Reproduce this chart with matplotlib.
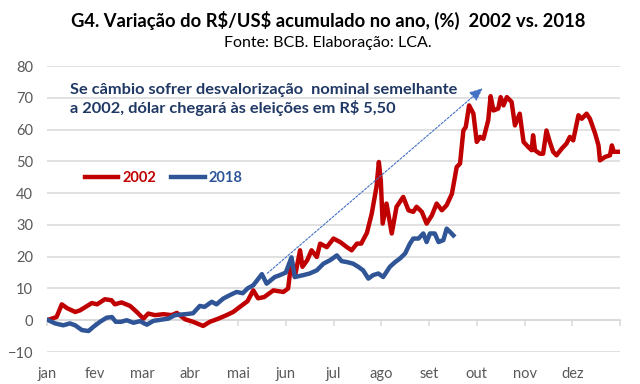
import matplotlib
matplotlib.use("Agg")
import matplotlib.pyplot as plt

plt.rcParams["font.family"] = ["Lato", "DejaVu Sans"]

# Months (x = fraction of the year in months, 0 = 1 Jan)
months = ["jan", "fev", "mar", "abr", "mai", "jun",
          "jul", "ago", "set", "out", "nov", "dez"]

# 2002 accumulated variation (%)
x2002 = [0.06, 0.20, 0.31, 0.42, 0.59, 0.69, 0.94, 1.05, 1.21, 1.35, 1.42, 1.56,
         1.74, 1.88, 2.02, 2.12, 2.26, 2.44, 2.61, 2.72, 2.89, 3.06, 3.27, 3.41,
         3.59, 3.76, 3.90, 4.04, 4.20, 4.32, 4.42, 4.55, 4.74, 4.95, 5.05, 5.12,
         5.19, 5.30, 5.35, 5.45, 5.54, 5.65, 5.72, 5.86, 6.00, 6.14, 6.28, 6.38,
         6.49, 6.58, 6.70, 6.80, 6.90, 6.95, 6.99, 7.03, 7.11, 7.22, 7.32, 7.46,
         7.57, 7.67, 7.74, 7.85, 7.95, 8.06, 8.16, 8.27, 8.37, 8.48, 8.58, 8.65,
         8.72, 8.77, 8.84, 8.93, 9.00, 9.07, 9.14, 9.24, 9.29, 9.35, 9.45, 9.50,
         9.56, 9.63, 9.73, 9.80, 9.90, 9.98, 10.08, 10.15, 10.18, 10.22, 10.32,
         10.39, 10.46, 10.53, 10.60, 10.67, 10.78, 10.88, 10.95, 11.02, 11.13,
         11.20, 11.30, 11.37, 11.48, 11.55, 11.58, 11.69, 11.79, 11.83, 11.87, 12.00]
y2002 = [0.3, 1.0, 5.0, 3.8, 2.6, 3.1, 5.4, 5.0, 6.6, 6.3, 5.0, 5.6,
         4.5, 2.6, 0.5, 2.1, 1.6, 1.9, 1.6, 2.3, 0.3, -0.5, -1.8, -0.5,
         0.5, 1.6, 2.6, 4.2, 6.0, 9.4, 6.9, 7.3, 9.4, 8.9, 10.0, 18.9,
         13.6, 22.0, 16.8, 18.9, 22.0, 19.9, 24.1, 23.0, 25.7, 24.6, 23.0, 22.0,
         24.1, 24.1, 27.5, 33.5, 41.9, 49.8, 44.0, 30.4, 36.7, 27.3, 35.7, 38.8,
         34.6, 34.1, 35.7, 34.1, 30.4, 33.0, 36.7, 34.6, 36.2, 39.8, 48.2, 49.3,
         59.7, 60.8, 67.6, 65.0, 56.1, 57.7, 57.1, 62.9, 70.5, 66.0, 66.6, 70.2,
         67.6, 70.2, 68.7, 61.3, 65.0, 56.1, 54.5, 53.5, 58.2, 53.5, 52.4,
         52.4, 59.7, 56.1, 53.0, 51.9, 54.0, 55.6, 57.7, 56.6, 64.5,
         63.4, 65.0, 63.4, 58.7, 55.0, 50.3, 51.4, 51.9, 55.0, 53.0, 53.0]

# 2018 accumulated variation (%)
x2018 = [0.03, 0.17, 0.34, 0.48, 0.59, 0.73, 0.87, 0.97, 1.11, 1.25, 1.36, 1.44,
         1.55, 1.67, 1.81, 1.95, 2.09, 2.23, 2.40, 2.54, 2.68, 2.82, 2.96, 3.06,
         3.20, 3.30, 3.45, 3.55, 3.69, 3.83, 3.97, 4.10, 4.20, 4.32, 4.50, 4.60,
         4.77, 4.88, 5.00, 5.12, 5.19, 5.37, 5.50, 5.65, 5.79, 5.93, 6.07, 6.17,
         6.28, 6.41, 6.52, 6.62, 6.73, 6.83, 6.94, 7.04, 7.18, 7.29, 7.39, 7.50,
         7.60, 7.67, 7.78, 7.88, 7.95, 8.02, 8.12, 8.20, 8.30, 8.37, 8.44, 8.51]
y2018 = [0.0, -1.0, -1.6, -1.0, -1.6, -3.1, -3.4, -2.1, -0.5, 0.8, 1.0, -0.5,
         -0.5, 0.0, -0.8, -0.3, -1.4, -0.2, 0.2, 0.5, 1.6, 1.8, 2.0, 2.2,
         4.5, 4.2, 5.8, 5.0, 6.8, 7.9, 8.9, 8.5, 10.0, 11.0, 14.5, 11.5,
         13.6, 14.2, 15.0, 19.8, 13.6, 14.2, 14.7, 15.7, 17.8, 18.9, 20.4, 18.6,
         18.3, 17.8, 16.8, 15.7, 13.1, 14.2, 14.7, 13.6, 16.8, 18.3, 19.4, 21.0,
         24.1, 25.7, 25.7, 27.3, 24.6, 27.3, 27.3, 24.6, 25.2, 28.8, 27.8, 26.7]

# Projection arrow (start / end in data units)
arrow_start = (4.57, 14.2)
arrow_end = (9.17, 73.6)

title = r"G4. Variação do R\$/US\$ acumulado no ano, (%)  2002 vs. 2018"
subtitle = "Fonte: BCB. Elaboração: LCA."
note = ("Se câmbio sofrer desvalorização  nominal semelhante\n"
        r"a 2002, dólar chegará às eleições em R\$ 5,50")

red = "#C00000"
blue = "#2F5597"
grey_txt = "#595959"
grid_c = "#D9D9D9"

fig = plt.figure(figsize=(6.4, 3.84), dpi=100)
ax = fig.add_axes([47/640, 32/384, 573/640, 286/384])

ax.plot(x2002, y2002, color=red, lw=3.2, solid_joinstyle="round", label="2002", zorder=3)
ax.plot(x2018, y2018, color=blue, lw=3.2, solid_joinstyle="round", label="2018", zorder=3)

ax.annotate("", xy=arrow_end, xytext=arrow_start,
            arrowprops=dict(arrowstyle="-|>,head_length=0.8,head_width=0.35",
                            color="#4472C4", lw=0.8, linestyle=(0, (2, 1.5))),
            zorder=4)

ax.text(0.48, 69.4, note, fontsize=11.8, fontweight="bold", color="#203864",
        va="center", ha="left", linespacing=1.2)

ax.set_xlim(0, 12)
ax.set_ylim(-10, 80)
ax.set_yticks(range(-10, 81, 10))
ax.set_xticks(range(13))
ax.set_xticklabels(months + [""])
ax.yaxis.grid(True, color=grid_c, lw=1.1)
ax.set_axisbelow(True)

for s in ["top", "right", "left"]:
    ax.spines[s].set_visible(False)
ax.spines["bottom"].set_position(("data", 0))
ax.spines["bottom"].set_color(grid_c)
ax.spines["bottom"].set_linewidth(1.1)

ax.tick_params(axis="y", length=0, pad=10, labelsize=10.5, labelcolor=grey_txt)
ax.tick_params(axis="x", direction="out", length=4, color=grid_c, width=1.1,
               pad=30, labelsize=10.5, labelcolor=grey_txt)

leg = ax.legend(loc="center left", bbox_to_anchor=(0.066, 0.608), ncol=2,
                frameon=False, handlelength=2.3, handletextpad=0.3,
                columnspacing=1.0, borderaxespad=0, borderpad=0,
                prop={"weight": "bold", "size": 10.5})
for t, c in zip(leg.get_texts(), [red, blue]):
    t.set_color(c)

fig.text(328/640, 1 - 20/384, title, ha="center", va="center",
         fontsize=13.2, fontweight="bold", color="black")
fig.text(328/640, 1 - 43/384, subtitle, ha="center", va="center",
         fontsize=11.5, color="black")

fig.savefig("out.png", dpi=100)
